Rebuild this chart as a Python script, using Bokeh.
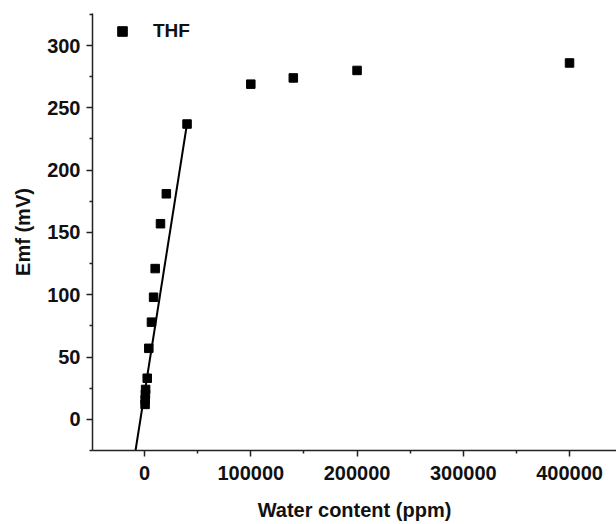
from bokeh.plotting import figure
from bokeh.models import (Range1d, FixedTicker, NumeralTickFormatter, Legend, LegendItem)
from bokeh.embed import file_html
from bokeh.resources import INLINE

# Data
water_ppm = [500, 600, 800, 1000, 2500, 4000, 6500, 8500, 10000, 15000, 20500, 40000,
             100000, 140000, 200000, 400000]
emf_mv = [12, 16, 20, 24, 33, 57, 78, 98, 121, 157, 181, 237,
          269, 274, 280, 286]

# Linear fit of the low-concentration region
fit_slope = 0.00541
fit_intercept = 21.0
fit_x = [-8500, 40000]
fit_y = [fit_intercept + fit_slope * v for v in fit_x]

x_major = [0, 100000, 200000, 300000, 400000]
x_minor = [-50000, 50000, 150000, 250000, 350000]
y_major = [0, 50, 100, 150, 200, 250, 300]
y_minor = [-25, 25, 75, 125, 175, 225, 275, 325]

FONT = "Liberation Sans"

p = figure(width=616, height=524, output_backend="svg", toolbar_location=None,
           x_range=Range1d(-49000, 444200), y_range=Range1d(-25, 325.7),
           min_border_left=92, min_border_right=0, min_border_top=13, min_border_bottom=74)
p.outline_line_color = None
p.xgrid.visible = False
p.ygrid.visible = False
p.background_fill_color = "white"

line_r = p.line(fit_x, fit_y, line_color="black", line_width=2)
pts = p.scatter(water_ppm, emf_mv, marker="square", size=8.5, fill_color="black", line_color="black")

for ax in (p.xaxis[0], p.yaxis[0]):
    ax.axis_line_width = 1.5
    ax.axis_line_color = "#222222"
    ax.major_tick_line_color = "#222222"
    ax.minor_tick_line_color = "#222222"
    ax.major_tick_line_width = 1.5
    ax.minor_tick_line_width = 1.5
    ax.major_tick_out = 6
    ax.major_tick_in = 0
    ax.minor_tick_out = 3
    ax.minor_tick_in = 0
    ax.major_label_text_font = FONT
    ax.major_label_text_font_style = "bold"
    ax.major_label_text_font_size = "20px"
    ax.major_label_text_color = "#111111"
    ax.axis_label_text_font = FONT
    ax.axis_label_text_font_style = "bold"
    ax.axis_label_text_font_size = "20px"
    ax.axis_label_text_color = "#111111"

p.xaxis[0].ticker = FixedTicker(ticks=x_major, minor_ticks=x_minor)
p.yaxis[0].ticker = FixedTicker(ticks=y_major, minor_ticks=y_minor)
p.xaxis[0].formatter = NumeralTickFormatter(format="0")
p.xaxis[0].axis_label = "Water content (ppm)"
p.yaxis[0].axis_label = "Emf (mV)"
p.xaxis[0].major_label_standoff = 9
p.yaxis[0].major_label_standoff = 6
p.xaxis[0].axis_label_standoff = 16
p.yaxis[0].axis_label_standoff = 10

legend = Legend(items=[LegendItem(label="THF", renderers=[pts])],
                location=(18, 407), glyph_width=24, glyph_height=24,
                padding=0, margin=0, label_standoff=19,
                border_line_color=None, background_fill_alpha=0,
                label_text_font=FONT, label_text_font_style="bold",
                label_text_font_size="19px", label_text_color="#111111")
p.add_layout(legend)

open("out.html", "w").write(file_html(p, INLINE))
